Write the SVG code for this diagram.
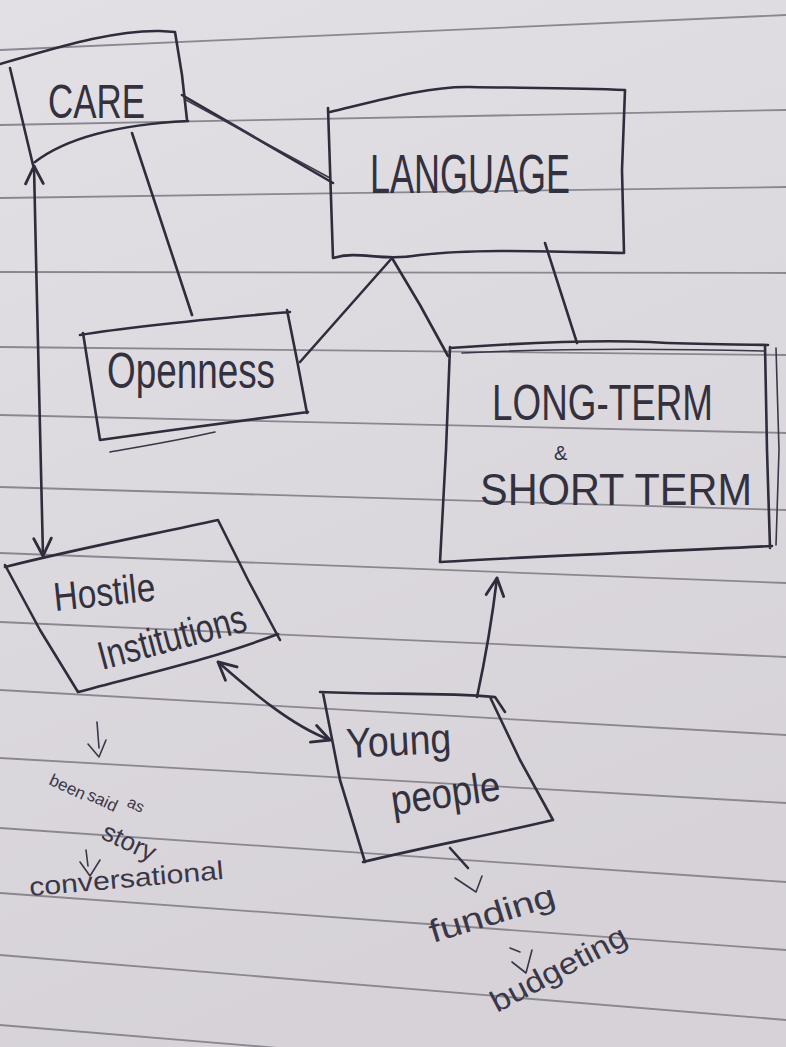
<svg xmlns="http://www.w3.org/2000/svg" width="786" height="1047" viewBox="0 0 786 1047">
<style>
.ink{fill:none;stroke:#2f2c3c;stroke-width:2.6;stroke-linecap:round;stroke-linejoin:round}
.thin{fill:none;stroke:#3a3748;stroke-width:1.6;stroke-linecap:round;stroke-linejoin:round}
.rule{fill:none;stroke:#8a8791;stroke-width:1.8}
.lbl{font-family:"Liberation Sans","DejaVu Sans",sans-serif;fill:#34313f}
.note{font-family:"Liberation Sans","DejaVu Sans",sans-serif;fill:#3a3748}
</style>
<defs>
<linearGradient id="paper" x1="0" y1="0" x2="0.3" y2="1">
<stop offset="0" stop-color="#e2e0e5"/>
<stop offset="1" stop-color="#d6d2d8"/>
</linearGradient>
<marker id="ah" viewBox="0 0 20 20" refX="18" refY="10" markerWidth="22" markerHeight="22" markerUnits="userSpaceOnUse" orient="auto-start-reverse">
<path d="M2,2 L18,10 L2,18" fill="none" stroke="#2f2c3c" stroke-width="2.6" stroke-linecap="round" stroke-linejoin="round"/>
</marker>
</defs>
<rect x="0" y="0" width="786" height="1047" fill="url(#paper)"/>
<g id="rules">
<path class="rule" d="M0,50 L786,15"/>
<path class="rule" d="M0,125 L786,110"/>
<path class="rule" d="M0,198 L786,187"/>
<path class="rule" d="M0,272 L786,273"/>
<path class="rule" d="M0,347 L786,355"/>
<path class="rule" d="M0,415 L786,433"/>
<path class="rule" d="M0,487 L786,510"/>
<path class="rule" d="M0,553 L786,583"/>
<path class="rule" d="M0,622 L786,657"/>
<path class="rule" d="M0,690 L786,735"/>
<path class="rule" d="M0,758 L786,803"/>
<path class="rule" d="M0,828 L786,882"/>
<path class="rule" d="M0,893 L786,950"/>
<path class="rule" d="M0,955 L786,1020"/>
<path class="rule" d="M0,1025 L786,1090"/>
</g>
<g id="connectors">
<path class="ink" d="M182,95 L333,183"/>
<path class="thin" d="M186,100 L330,178"/>
<path class="ink" d="M132,133 L192,315"/>
<path class="ink" d="M392,258 L300,362"/>
<path class="ink" d="M392,258 L420,305 L448,356"/>
<path class="ink" d="M545,243 L577,343"/>
<path class="ink" d="M34,166 C37,300 40,450 43,556" marker-start="url(#ah)" marker-end="url(#ah)"/>
<path class="ink" d="M218,662 C250,690 290,725 330,740" marker-start="url(#ah)" marker-end="url(#ah)"/>
<path class="ink" d="M477,697 C485,660 492,620 497,578" marker-end="url(#ah)"/>
<path class="thin" d="M97,722 L99,748 M88,744 L99,757 L106,740"/>
<path class="thin" d="M86,850 L88,866 M80,862 L90,876 L100,860"/>
<path class="ink" d="M450,848 L468,868"/>
<path class="thin" d="M455,878 L476,892 L482,876"/>
<path class="thin" d="M510,948 L520,952 M512,962 L526,973 L532,950"/>
</g>
<g id="care">
<path class="ink" d="M0,64 C50,50 110,30 160,31 L175,32 M175,32 L182,75 L187,120 M188,121 C130,124 70,135 35,162 M10,68 L33,165"/>
<text class="lbl" x="48" y="118" font-size="48" textLength="97" lengthAdjust="spacingAndGlyphs">CARE</text>
</g>
<g id="language">
<path class="ink" d="M330,112 C380,100 430,86 470,87 C530,88 580,88 625,90 M625,90 L622,170 L624,253 M333,258 C360,250 380,262 420,255 C480,248 560,252 624,253 M328,108 L333,258"/>
<text class="lbl" x="370" y="193" font-size="56" textLength="200" lengthAdjust="spacingAndGlyphs">LANGUAGE</text>
</g>
<g id="openness">
<path class="ink" d="M80,335 C140,325 220,318 290,312 M287,310 L297,360 L307,413 M100,440 C170,430 250,420 308,412 M83,333 L100,440"/>
<path class="thin" d="M110,452 C150,445 180,440 215,432"/>
<text class="lbl" x="107" y="388" font-size="50" textLength="168" lengthAdjust="spacingAndGlyphs">Openness</text>
</g>
<g id="longterm">
<path class="ink" d="M450,348 C520,343 600,340 650,342 C700,345 740,344 768,345 M765,345 L767,450 L770,548 M440,562 C540,556 650,552 772,546 M450,347 L446,450 L440,562"/>
<path class="thin" d="M462,353 C560,348 680,349 764,351 M776,348 L779,450 L776,545"/>
<text class="lbl" x="492" y="420" font-size="50" textLength="221" lengthAdjust="spacingAndGlyphs">LONG-TERM</text>
<text class="lbl" x="554" y="460" font-size="20">&amp;</text>
<text class="lbl" x="480" y="505" font-size="44" textLength="272" lengthAdjust="spacingAndGlyphs">SHORT TERM</text>
</g>
<g id="hostile">
<path class="ink" d="M5,567 C80,548 150,535 218,520 M218,520 L248,580 L280,640 M278,634 C210,660 140,675 78,692 M5,565 L40,630 L78,692"/>
<text class="lbl" x="55" y="611" font-size="40" textLength="102" lengthAdjust="spacingAndGlyphs" transform="rotate(-6 55 611)">Hostile</text>
<text class="lbl" x="102" y="670" font-size="40" textLength="152" lengthAdjust="spacingAndGlyphs" transform="rotate(-15 102 670)">Institutions</text>
</g>
<g id="young">
<path class="ink" d="M320,692 C380,695 440,692 495,697 L505,712 M490,697 L520,760 L553,820 M553,820 C490,835 420,848 363,862 M323,693 L340,780 L365,862"/>
<text class="lbl" x="347" y="758" font-size="42" textLength="105" lengthAdjust="spacingAndGlyphs" transform="rotate(-3 347 758)">Young</text>
<text class="lbl" x="393" y="815" font-size="42" textLength="110" lengthAdjust="spacingAndGlyphs" transform="rotate(-8 393 815)">people</text>
</g>
<g id="notes">
<text class="note" x="48" y="784" font-size="17" transform="rotate(25 48 784)">been</text>
<text class="note" x="86" y="799" font-size="17" transform="rotate(25 86 799)">said</text>
<text class="note" x="126" y="806" font-size="16" transform="rotate(25 126 806)">as</text>
<text class="note" x="100" y="838" font-size="26" transform="rotate(25 100 838)">story</text>
<text class="note" x="30" y="896" font-size="26" textLength="195" lengthAdjust="spacingAndGlyphs" transform="rotate(-5 30 896)">conversational</text>
<text class="note" x="433" y="943" font-size="32" textLength="130" lengthAdjust="spacingAndGlyphs" transform="rotate(-17 433 943)">funding</text>
<text class="note" x="497" y="1013" font-size="30" textLength="150" lengthAdjust="spacingAndGlyphs" transform="rotate(-28 497 1013)">budgeting</text>
</g>
</svg>
